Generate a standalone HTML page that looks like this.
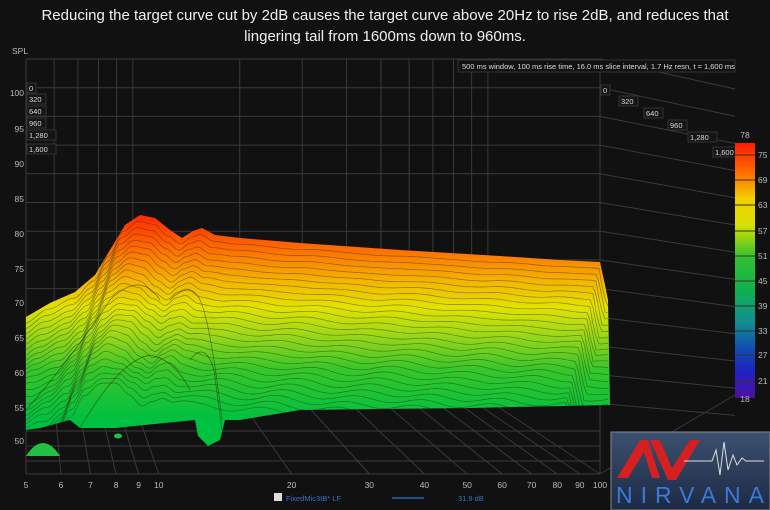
<!DOCTYPE html>
<html><head><meta charset="utf-8"><style>
html,body{margin:0;padding:0;background:#111;}
body{width:770px;height:510px;overflow:hidden;font-family:"Liberation Sans",sans-serif;}
.t{position:absolute;left:0;width:770px;text-align:center;color:#f0f0f0;font-size:15px;}
</style></head><body>
<div class="t" style="top:7px">Reducing the target curve cut by 2dB causes the target curve above 20Hz to rise 2dB, and reduces that</div>
<div class="t" style="top:28px">lingering tail from 1600ms down to 960ms.</div>
<svg id="s" width="770" height="510" style="position:absolute;left:0;top:0" font-family="Liberation Sans, sans-serif">
<defs>
<linearGradient id="g" x1="0" y1="215" x2="0" y2="420" gradientUnits="userSpaceOnUse">
<stop offset="0" stop-color="#ff2a00"/><stop offset="0.16" stop-color="#ff6a00"/>
<stop offset="0.32" stop-color="#f5b400"/><stop offset="0.45" stop-color="#e4e200"/>
<stop offset="0.58" stop-color="#a0d818"/><stop offset="0.75" stop-color="#38c62a"/>
<stop offset="1" stop-color="#00c040"/></linearGradient>
<linearGradient id="cb" x1="0" y1="0" x2="0" y2="1">
<stop offset="0" stop-color="#ff1a00"/><stop offset="0.12" stop-color="#ff7000"/>
<stop offset="0.22" stop-color="#f2d000"/><stop offset="0.32" stop-color="#d8e000"/>
<stop offset="0.45" stop-color="#30c030"/><stop offset="0.58" stop-color="#10b050"/>
<stop offset="0.7" stop-color="#109090"/><stop offset="0.8" stop-color="#1050b0"/>
<stop offset="0.9" stop-color="#2020c0"/><stop offset="1" stop-color="#5010a0"/></linearGradient>
<clipPath id="cp"><path id="cpp" d="M0,0"/></clipPath>
<linearGradient id="lg" x1="0" y1="0" x2="0" y2="1"><stop offset="0" stop-color="#3c5070"/><stop offset="1" stop-color="#1c2a44"/></linearGradient>
</defs>
<g id="grid" stroke="#3a3a3a" stroke-width="1" fill="none"></g>
<g id="surf"></g>
<g id="lab" fill="#bbb" font-size="8.5"></g>
</svg>
<script>
var S=document.getElementById('s'),G=document.getElementById('grid'),L=document.getElementById('lab'),SF=document.getElementById('surf');
var NS=S.namespaceURI;
function el(p,t,a,txt){var e=document.createElementNS(NS,t);for(var k in a)e.setAttribute(k,a[k]);if(txt!==undefined)e.textContent=txt;p.appendChild(e);return e;}
function X(f){return 26+574*Math.log(f/5)/Math.log(20);}
function XB(f){return 26+355*Math.log(f/5)/Math.LN10;}
try{
for(var i=0;i<13;i++){var y=59+i*28.7;el(G,'line',{x1:26,y1:y,x2:600,y2:y});el(G,'line',{x1:600,y1:y,x2:735,y2:y+30-i*1.5});}
[5,6,7,8,9,10,20,30,40,50,60,70,80,90,100].forEach(function(f){var x=X(f),xb=XB(f);el(G,'line',{x1:xb,y1:59,x2:xb,y2:400});el(G,'line',{x1:x,y1:474,x2:xb,y2:400});
el(L,'text',{x:x,y:488,'text-anchor':'middle'},String(f));});
[431,446,461,474].forEach(function(y){el(G,'line',{x1:26,y1:y,x2:600,y2:y});});
el(G,'line',{x1:26,y1:59,x2:26,y2:474});el(G,'line',{x1:600,y1:59,x2:600,y2:474});el(G,'line',{x1:600,y1:474,x2:735,y2:395});
var yl=[96,132,167,202,237,272,306,341,376,411,444];
[100,95,90,85,80,75,70,65,60,55,50].forEach(function(v,i){el(L,'text',{x:24,y:yl[i],'text-anchor':'end'},String(v));});
el(L,'text',{x:12,y:54},'SPL');
el(L,'rect',{x:458,y:60,width:277,height:12,fill:'#111',stroke:'#333'});
el(L,'text',{x:462,y:69,'font-size':'7.5',fill:'#ddd'},'500 ms window, 100 ms rise time, 16.0 ms slice interval, 1.7 Hz resn, t = 1,600 ms');
var tl=['0','320','640','960','1,280','1,600'];
[[27,90],[27,101],[27,113],[27,125],[27,137],[27,151]].forEach(function(p,i){el(L,'rect',{x:p[0],y:p[1]-7,width:tl[i].length*5+4,height:10,fill:'#151515',stroke:'#333'});el(L,'text',{x:p[0]+2,y:p[1]+1,'font-size':'7.5',fill:'#ddd'},tl[i]);});
[[601,92],[619,103],[644,115],[668,127],[688,139],[713,154]].forEach(function(p,i){el(L,'rect',{x:p[0],y:p[1]-7,width:tl[i].length*5+4,height:10,fill:'#151515',stroke:'#333'});el(L,'text',{x:p[0]+2,y:p[1]+1,'font-size':'7.5',fill:'#ddd'},tl[i]);});
}catch(e){}
try{
var pts=[[26,317],[50,303],[75,292],[95,275],[110,250],[125,225],[140,215],[155,218],[170,230],[182,238],[193,231],[202,228],[215,235],[240,238],[300,243],[400,250],[500,256],[560,260],[600,262],[605,285],[608,300]];
function top(x){if(x<=pts[0][0])return pts[0][1];for(var i=1;i<pts.length;i++){if(x<=pts[i][0]){var a=pts[i-1],b=pts[i],t=(x-a[0])/(b[0]-a[0]);return a[1]+(b[1]-a[1])*(t*t*(3-2*t));}}return 300;}
var d='M26,317';pts.forEach(function(p){d+=' L'+p[0]+','+p[1];});
d+=' L610,405 L470,408 L300,410 L240,420 L225,420 L220,440 L208,446 L198,436 L195,420 L115,428 L80,428 L70,420 L40,428 L26,430 Z';
document.getElementById('cpp').setAttribute('d',d);
el(SF,'path',{d:d,fill:'url(#g)'});
el(SF,'path',{d:'M26,456 Q43,430 60,456 Z',fill:'#20c040'});
el(SF,'ellipse',{cx:118,cy:436,rx:4,ry:2.5,fill:'#20c040'});
var cg=el(SF,'g',{'clip-path':'url(#cp)',fill:'none',stroke:'#203010','stroke-width':'0.7','stroke-opacity':'0.5'});
for(var k=1;k<28;k++){var s='';for(var x=26;x<=610;x+=3){var y=top(x+k*1.5)+k*6.2+Math.sin(x*0.09+k*0.7)*k*0.12;
 s+=(x===26?'M':'L')+x+','+y.toFixed(1)+' ';}el(cg,'path',{d:s});}
// front hills outline
el(cg,'path',{d:'M26,410 Q70,360 110,300 Q140,270 160,300',stroke:'#1a2a08','stroke-opacity':'0.6'});
el(cg,'path',{d:'M80,428 Q120,360 150,355 Q175,360 190,390',stroke:'#1a2a08','stroke-opacity':'0.6'});
el(cg,'path',{d:'M170,300 Q190,280 200,300 Q210,320 222,420',stroke:'#1a2a08','stroke-opacity':'0.6'});
el(cg,'path',{d:'M190,360 Q205,340 214,370 L222,430',stroke:'#1a2a08','stroke-opacity':'0.6'});
}catch(e){}
try{
el(L,'rect',{x:735,y:143,width:20,height:255,fill:'url(#cb)'});
[[78,138,1],[75,155],[69,180],[63,205],[57,231],[51,256],[45,281],[39,306],[33,331],[27,355],[21,381],[18,402,1]].forEach(function(a){
 if(a[2])el(L,'text',{x:745,y:a[1],'text-anchor':'middle'},String(a[0]));else{el(L,'text',{x:758,y:a[1]+3},String(a[0]));el(L,'line',{x1:735,y1:a[1],x2:755,y2:a[1],stroke:'#333'});}});
el(L,'rect',{x:274,y:493,width:8,height:8,fill:'#ddd'});
el(L,'text',{x:286,y:501,fill:'#3a70c8','font-size':'7.5'},'FixedMic3IB* LF');
el(L,'line',{x1:392,y1:498,x2:424,y2:498,stroke:'#2a70d0','stroke-width':1.2});
el(L,'text',{x:458,y:501,fill:'#3a70c8','font-size':'7.5'},'31.9 dB');
el(L,'rect',{x:611,y:432,width:159,height:78,fill:'url(#lg)',stroke:'#888'});
el(L,'path',{d:'M617,478 L640,440 L648,440 L660,478 L652,478 L644,452 L628,478 Z',fill:'#d42020'});
el(L,'path',{d:'M650,440 L660,440 L672,468 L690,440 L700,440 L676,480 L668,480 Z',fill:'#d42020'});
el(L,'path',{d:'M684,461 L712,461 L716,450 L720,475 L724,442 L728,470 L733,455 L737,465 L742,458 L746,461 L764,461',fill:'none',stroke:'#ddd','stroke-width':1});
el(L,'text',{x:616,y:503,fill:'#3a7ad8','font-size':'23',textLength:'148'},'NIRVANA');
}catch(e){}
</script>
</body></html>
